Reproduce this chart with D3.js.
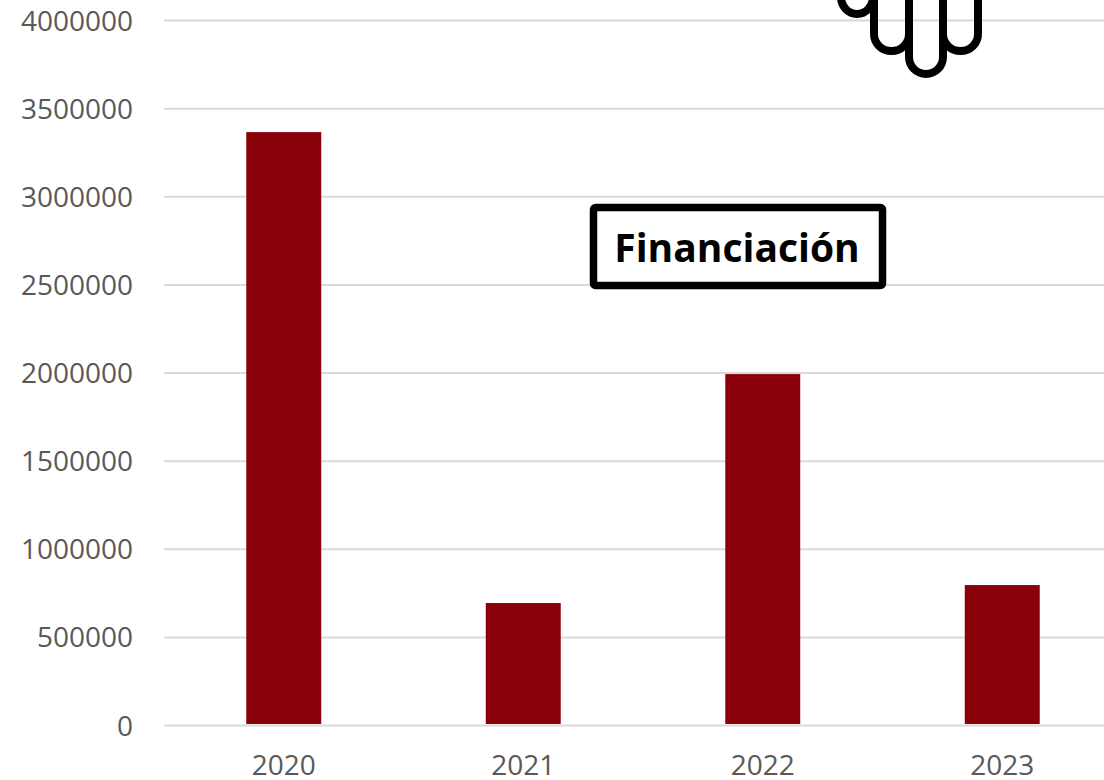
<!DOCTYPE html>
<html>
<head>
<meta charset="utf-8">
<script src="https://cdnjs.cloudflare.com/ajax/libs/d3/7.8.5/d3.min.js"></script>
<style>
  html, body { margin: 0; padding: 0; background: #fff; overflow: hidden; }
  svg { display: block; }
</style>
</head>
<body>
<div id="chart"></div>
<script>
// values
const years = ["2020", "2021", "2022", "2023"]
const financiacion = [3364000, 692000, 1991000, 794000]
const yTicks = [0, 500000, 1000000, 1500000, 2000000, 2500000, 3000000, 3500000, 4000000]
const boxLabel = "Financiación"

const fontFamily = "'Open Sans', sans-serif"
const margin = { top: 20, left: 164, bottom: 55 }
const svgWidth = 1104
const svgHeight = 780
const plotWidth = 958
const plotHeight = svgHeight - margin.top - margin.bottom

const svg = d3.select("#chart")
  .append("svg")
    .attr("width", svgWidth)
    .attr("height", svgHeight)

const chart = svg.append("g")
    .attr("transform", "translate(" + margin.left + "," + margin.top + ")")

// scales
const x = d3.scaleBand().domain(years).range([0, plotWidth]).paddingInner(0.687).paddingOuter(0.3435)
const y = d3.scaleLinear().domain([0, 4000000]).range([plotHeight, 0])

// the hand sticks into the chart from above, gridline runs over it
svg.append("path")
    .attr("fill", "none")
    .attr("stroke", "#000")
    .attr("stroke-width", 8)
    .attr("d", "M841,-5 V-3 A16,17 0 0 0 873,-3 V-5 M874,-5 V34 A17.5,17 0 0 0 909,34 V-5 M909,34 V57 A17,17 0 0 0 943,57 V-5 M943,34 A17.5,17 0 0 0 978,34 V-5")

// y axis with gridlines
const yAxis = chart.append("g")
    .call(d3.axisLeft(y).tickValues(yTicks).tickFormat(d3.format("d")).tickSize(-plotWidth).tickPadding(31))
yAxis.select(".domain").remove()
yAxis.selectAll("line").attr("stroke", "#d9d9d9").attr("stroke-width", 2)
yAxis.selectAll("text")
    .attr("dy", "0.36em")
    .attr("fill", "#595959")
    .style("font-family", fontFamily)
    .style("font-size", "28px")

// bars
chart.selectAll(".bar")
  .data(years)
  .enter().append("rect")
    .attr("class", "bar")
    .attr("x", d => x(d))
    .attr("width", x.bandwidth())
    .attr("y", (d, i) => y(financiacion[i]))
    .attr("height", (d, i) => plotHeight - y(financiacion[i]) - 1)
    .attr("fill", "#8a0009")

// x axis
const xAxis = chart.append("g")
    .attr("transform", "translate(0," + plotHeight + ")")
    .call(d3.axisBottom(x).tickSize(0).tickPadding(30))
xAxis.select(".domain").remove()
xAxis.selectAll("text")
    .attr("fill", "#595959")
    .style("font-family", fontFamily)
    .style("font-size", "28px")

// label box
const box = svg.append("g")
box.append("rect")
    .attr("x", 593.5)
    .attr("y", 207.5)
    .attr("width", 289)
    .attr("height", 78)
    .attr("rx", 2)
    .attr("fill", "#fff")
    .attr("stroke", "#000")
    .attr("stroke-width", 7.5)
box.append("text")
    .attr("x", 737)
    .attr("y", 262)
    .attr("text-anchor", "middle")
    .attr("fill", "#000")
    .style("font-family", fontFamily)
    .style("font-weight", "700")
    .style("font-size", "39px")
    .text(boxLabel)
</script>
</body>
</html>
